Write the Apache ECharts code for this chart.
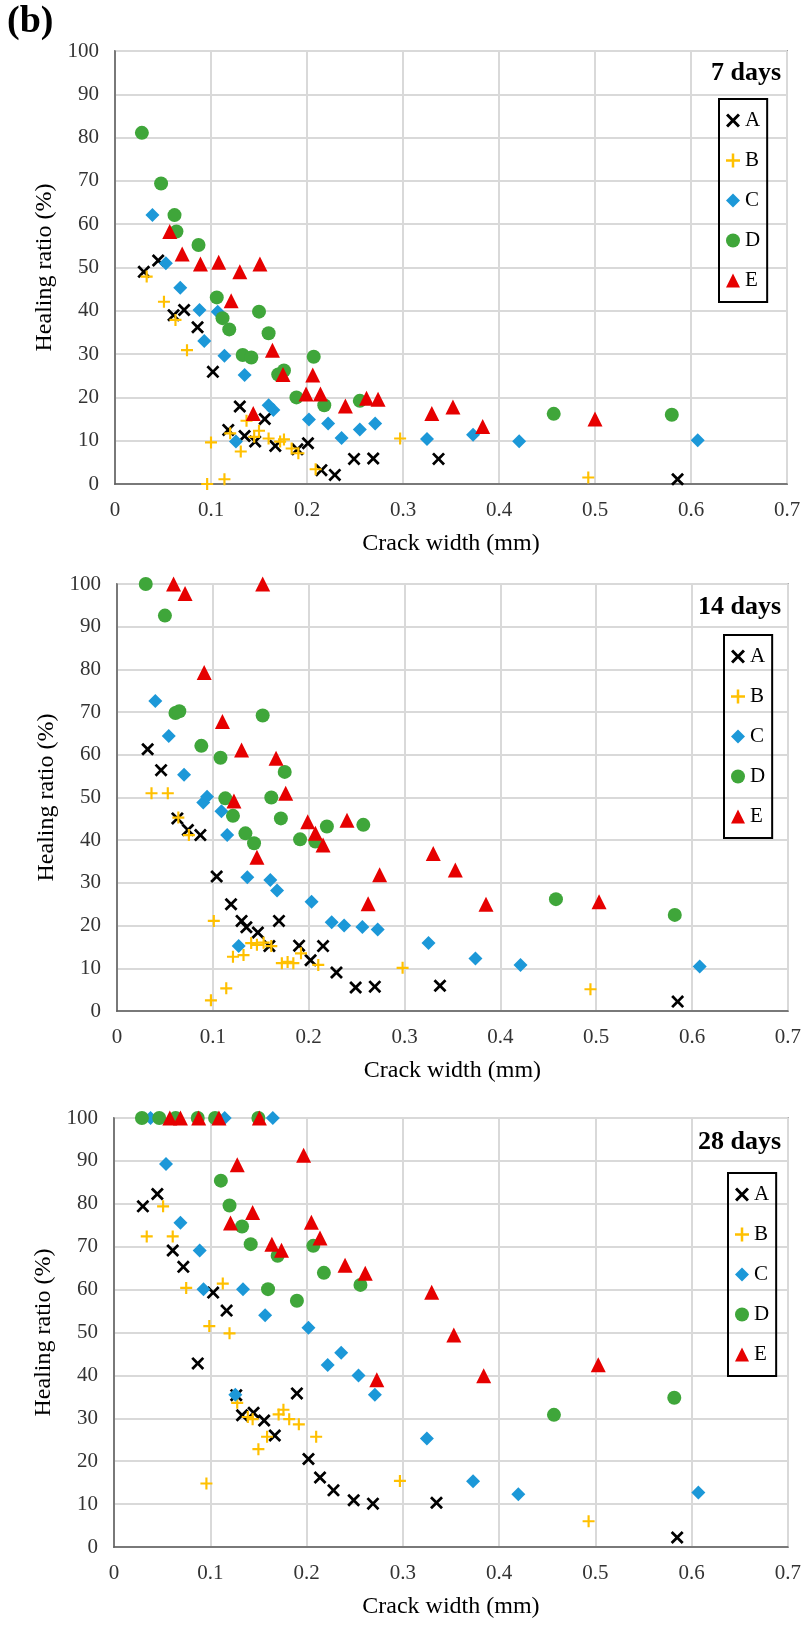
<!DOCTYPE html>
<html><head><meta charset="utf-8">
<script src="https://cdn.jsdelivr.net/npm/echarts@6/dist/echarts.min.js"></script>
<style>html,body{margin:0;padding:0;background:#fff}#c{width:804px;height:1625px}</style>
</head><body><div id="c"></div><script>
const seriesNames = ['A','B','C','D','E'];
const panelTitles = ['7 days','14 days','28 days'];
const xTickLabels = ['0','0.1','0.2','0.3','0.4','0.5','0.6','0.7'];
const yTickLabels = ['0','10','20','30','40','50','60','70','80','90','100'];
const xAxisTitle = 'Crack width (mm)';
const yAxisTitle = 'Healing ratio (%)';

// 7 days
const day7_A = [[0.030,49.0],[0.045,51.6],[0.061,39.0],[0.072,40.2],[0.086,36.2],[0.102,25.9],[0.118,12.5],[0.130,17.9],[0.135,11.1],[0.146,9.8],[0.156,15.0],[0.167,8.8],[0.190,8.0],[0.201,9.4],[0.215,3.2],[0.229,2.1],[0.249,5.8],[0.269,5.9],[0.337,5.8],[0.586,1.1]];
const day7_B = [[0.033,47.9],[0.051,42.1],[0.063,37.9],[0.075,30.9],[0.096,0.0],[0.100,9.6],[0.114,1.1],[0.120,11.7],[0.131,7.5],[0.137,14.6],[0.145,10.9],[0.150,12.3],[0.160,10.5],[0.172,9.8],[0.176,10.3],[0.184,8.2],[0.191,7.1],[0.209,3.4],[0.297,10.5],[0.493,1.5]];
const day7_C = [[0.039,62.1],[0.053,51.0],[0.068,45.3],[0.088,40.2],[0.093,33.0],[0.107,39.8],[0.114,29.6],[0.126,9.8],[0.135,25.2],[0.160,18.2],[0.165,17.1],[0.202,14.9],[0.222,14.0],[0.236,10.6],[0.255,12.6],[0.271,14.0],[0.325,10.4],[0.373,11.4],[0.421,9.9],[0.607,10.1]];
const day7_D = [[0.028,81.1],[0.048,69.4],[0.062,62.1],[0.064,58.3],[0.087,55.2],[0.106,43.1],[0.112,38.3],[0.119,35.7],[0.133,29.8],[0.142,29.2],[0.150,39.8],[0.160,34.8],[0.170,25.3],[0.176,26.2],[0.189,20.0],[0.207,29.4],[0.218,18.2],[0.255,19.2],[0.457,16.2],[0.580,16.0]];
const day7_E = [[0.057,58.3],[0.070,53.1],[0.089,50.8],[0.108,51.2],[0.121,42.3],[0.130,49.0],[0.144,16.3],[0.151,50.8],[0.164,30.9],[0.175,25.3],[0.199,20.8],[0.206,25.2],[0.214,20.8],[0.240,18.0],[0.262,19.8],[0.274,19.6],[0.330,16.3],[0.352,17.8],[0.383,13.3],[0.500,15.0]];

// 14 days
const day14_A = [[0.032,61.3],[0.046,56.4],[0.063,45.1],[0.074,42.4],[0.087,41.2],[0.104,31.5],[0.119,25.0],[0.130,21.1],[0.135,19.6],[0.147,18.4],[0.159,15.2],[0.169,21.1],[0.190,15.3],[0.202,11.9],[0.215,15.2],[0.229,9.0],[0.249,5.5],[0.269,5.7],[0.337,5.9],[0.585,2.2]];
const day14_B = [[0.036,51.0],[0.053,51.0],[0.064,45.3],[0.075,41.2],[0.098,2.5],[0.101,21.1],[0.114,5.3],[0.121,12.7],[0.132,13.1],[0.140,15.9],[0.146,15.5],[0.153,16.0],[0.161,15.2],[0.172,11.2],[0.178,11.5],[0.184,11.2],[0.192,13.5],[0.210,10.8],[0.298,10.1],[0.494,5.1]];
const day14_C = [[0.040,72.6],[0.054,64.4],[0.070,55.3],[0.090,48.8],[0.094,50.2],[0.109,46.8],[0.115,41.2],[0.127,15.2],[0.136,31.3],[0.160,30.7],[0.167,28.2],[0.203,25.6],[0.224,20.8],[0.237,20.0],[0.256,19.7],[0.272,19.1],[0.325,15.9],[0.374,12.3],[0.421,10.8],[0.608,10.4]];
const day14_D = [[0.030,100],[0.050,92.6],[0.061,69.8],[0.065,70.2],[0.088,62.1],[0.108,59.3],[0.113,49.8],[0.121,45.7],[0.134,41.6],[0.143,39.3],[0.152,69.2],[0.161,50.0],[0.171,45.1],[0.175,56.0],[0.191,40.2],[0.207,39.7],[0.219,43.2],[0.257,43.6],[0.458,26.2],[0.582,22.5]];
const day14_E = [[0.059,100],[0.071,97.8],[0.091,79.3],[0.110,67.8],[0.122,49.2],[0.130,61.1],[0.146,36.0],[0.152,100],[0.166,59.2],[0.176,51.0],[0.199,44.3],[0.207,41.6],[0.215,38.9],[0.240,44.7],[0.262,25.1],[0.274,31.9],[0.330,36.9],[0.353,33.0],[0.385,25.0],[0.503,25.6]];

// 28 days
const day28_A = [[0.030,79.4],[0.045,82.3],[0.061,69.1],[0.072,65.3],[0.087,42.8],[0.103,59.3],[0.117,55.1],[0.127,35.4],[0.133,30.7],[0.145,31.3],[0.156,29.5],[0.167,26.0],[0.190,35.8],[0.202,20.5],[0.214,16.2],[0.228,13.2],[0.249,10.9],[0.269,10.1],[0.335,10.3],[0.585,2.2]];
const day28_B = [[0.034,72.4],[0.051,79.4],[0.061,72.4],[0.075,60.4],[0.096,14.8],[0.099,51.5],[0.113,61.4],[0.120,49.8],[0.128,33.6],[0.139,30.3],[0.144,29.8],[0.150,22.8],[0.159,25.7],[0.171,30.9],[0.176,32.0],[0.182,29.8],[0.192,28.6],[0.210,25.7],[0.297,15.4],[0.493,6.0]];
const day28_C = [[0.038,100],[0.054,89.3],[0.069,75.6],[0.089,69.1],[0.093,60.1],[0.115,100],[0.126,35.5],[0.134,60.1],[0.157,54.0],[0.165,100],[0.202,51.1],[0.222,42.4],[0.236,45.3],[0.254,40.0],[0.271,35.5],[0.325,25.3],[0.373,15.3],[0.420,12.3],[0.607,12.7]];
const day28_D = [[0.029,100],[0.047,100],[0.064,100],[0.087,100],[0.105,100],[0.111,85.4],[0.120,79.6],[0.133,74.7],[0.142,70.6],[0.150,100],[0.160,60.1],[0.170,67.9],[0.190,57.4],[0.207,70.2],[0.218,63.9],[0.256,61.1],[0.457,30.8],[0.582,34.8]];
const day28_E = [[0.058,100],[0.069,100],[0.088,100],[0.109,100],[0.121,75.5],[0.128,89.1],[0.144,78.0],[0.151,100],[0.164,70.6],[0.174,69.2],[0.197,91.3],[0.205,75.7],[0.214,72.0],[0.240,65.7],[0.261,63.8],[0.273,39.0],[0.330,59.4],[0.353,49.4],[0.384,39.9],[0.503,42.5]];

const panelData = [
  [day7_A, day7_B, day7_C, day7_D, day7_E],
  [day14_A, day14_B, day14_C, day14_D, day14_E],
  [day28_A, day28_B, day28_C, day28_D, day28_E]
];

const FONT = "'Liberation Serif', 'Times New Roman', serif";
const colors = ['#000000', '#FFC000', '#1C98D8', '#3FA63A', '#E60000'];
const symbols = [
  'path://M0,1.5L1.5,0L5,3.5L8.5,0L10,1.5L6.5,5L10,8.5L8.5,10L5,6.5L1.5,10L0,8.5L3.5,5Z',
  'path://M4.1,0H5.9V4.1H10V5.9H5.9V10H4.1V5.9H0V4.1H4.1Z',
  'diamond', 'circle', 'triangle'
];
const symbolSizes = [13, 12, 14, 14, 15];

const grids = [
  {left: 115, top: 51, width: 672, height: 433},
  {left: 117, top: 584, width: 671, height: 427},
  {left: 114, top: 1118, width: 674, height: 429}
];
const legendPos = [{left: 719, top: 99}, {left: 724, top: 635}, {left: 728, top: 1173}];
const dayTitleTop = [55, 589, 1124];

const chart = echarts.init(document.getElementById('c'), null, {renderer: 'canvas'});

const option = {
  animation: false,
  backgroundColor: '#fff',
  title: [{text: '(b)', left: 2, top: -2, textStyle: {fontFamily: FONT, fontWeight: 'bold', fontSize: 38, color: '#000'}}]
    .concat(panelTitles.map((t, i) => ({text: t, right: 18, top: dayTitleTop[i],
      textStyle: {fontFamily: FONT, fontWeight: 'bold', fontSize: 26, color: '#000'}}))),
  grid: grids.map(g => Object.assign({show: true, borderColor: '#595959', borderWidth: 1.5, containLabel: false}, g)),
  legend: legendPos.map(p => ({
    orient: 'vertical', left: p.left, top: p.top, data: seriesNames,
    itemWidth: 14, itemHeight: 14, itemGap: 19, padding: [11, 7, 11, 7],
    borderColor: '#000', borderWidth: 2, selectedMode: false,
    textStyle: {fontFamily: FONT, fontSize: 21, color: '#000'}
  })),
  xAxis: grids.map((g, i) => ({
    type: 'value', gridIndex: i, min: 0, max: 0.7, interval: 0.1,
    axisLine: {show: true, lineStyle: {color: '#595959', width: 1.5}},
    axisTick: {show: false},
    splitLine: {show: true, lineStyle: {color: '#D9D9D9', width: 2}},
    axisLabel: {margin: 16, fontFamily: FONT, fontSize: 21, color: '#333',
      formatter: v => xTickLabels[Math.round(v * 10)]},
    name: xAxisTitle, nameLocation: 'middle', nameGap: 48,
    nameTextStyle: {fontFamily: FONT, fontSize: 24, color: '#000'}
  })),
  yAxis: grids.map((g, i) => ({
    type: 'value', gridIndex: i, min: 0, max: 100, interval: 10,
    axisLine: {show: true, lineStyle: {color: '#595959', width: 1.5}},
    axisTick: {show: false},
    splitLine: {show: true, lineStyle: {color: '#D9D9D9', width: 2}},
    axisLabel: {margin: 16, fontFamily: FONT, fontSize: 21, color: '#333',
      formatter: v => yTickLabels[Math.round(v / 10)]},
    name: yAxisTitle, nameLocation: 'middle', nameGap: 53,
    nameTextStyle: {fontFamily: FONT, fontSize: 24, color: '#000'}
  })),
  series: []
};

panelData.forEach((sets, p) => {
  sets.forEach((data, k) => {
    option.series.push({
      type: 'scatter', name: seriesNames[k], xAxisIndex: p, yAxisIndex: p,
      data: data, symbol: symbols[k], symbolSize: symbolSizes[k],
      itemStyle: {color: colors[k], opacity: 1}, clip: false, silent: true
    });
  });
});

chart.setOption(option);
</script></body></html>
